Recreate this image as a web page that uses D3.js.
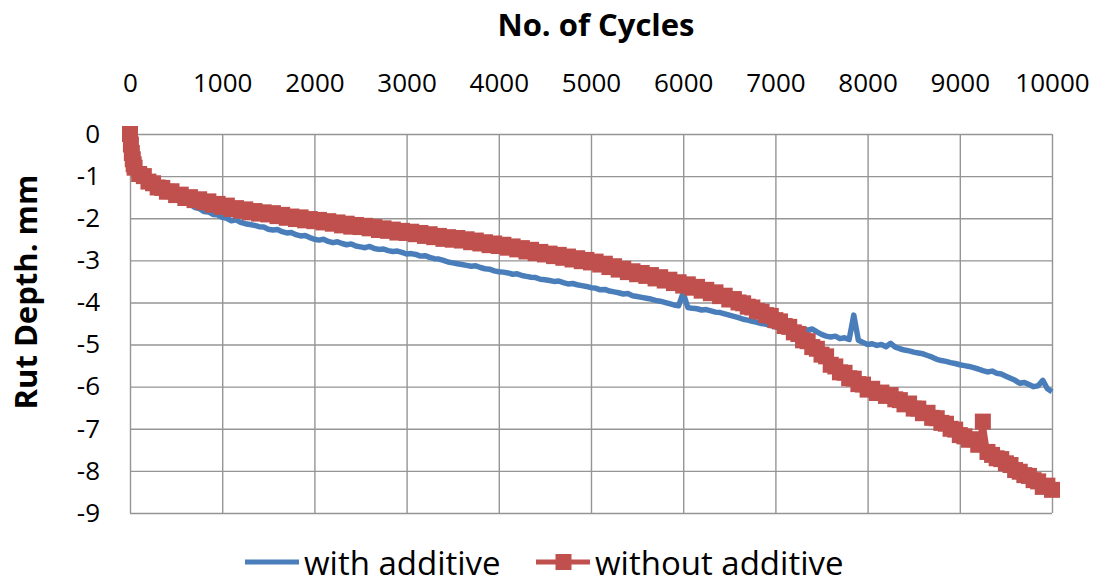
<!DOCTYPE html>
<html lang="en">
<head>
<meta charset="utf-8">
<script src="https://cdn.jsdelivr.net/npm/d3@7/dist/d3.min.js"></script>
<style>
  body { margin: 0; background: #fff; }
  text { font-family: "Open Sans", sans-serif; fill: #000; }
</style>
</head>
<body>
<script>
// cycles: a few early readings, then every 50 cycles
var cycles = [0, 10, 20, 30, 40].concat(d3.range(50, 10001, 50));

var withAdditive = [0, -0.2, -0.4, -0.55, -0.65,
  -0.72, -0.88, -0.98, -1.06, -1.14, -1.2, -1.26, -1.31, -1.37, -1.45,
  -1.52, -1.6, -1.66, -1.74, -1.77, -1.84, -1.85, -1.91, -1.92, -1.98,
  -2.0, -2.06, -2.04, -2.1, -2.13, -2.15, -2.17, -2.2, -2.21, -2.26,
  -2.28, -2.27, -2.32, -2.35, -2.34, -2.39, -2.42, -2.41, -2.46, -2.5,
  -2.52, -2.5, -2.55, -2.58, -2.56, -2.6, -2.63, -2.61, -2.66, -2.68,
  -2.7, -2.67, -2.72, -2.74, -2.73, -2.77, -2.79, -2.78, -2.81, -2.85,
  -2.84, -2.86, -2.9, -2.89, -2.93, -2.96, -2.97, -3.0, -3.04, -3.06,
  -3.08, -3.1, -3.12, -3.14, -3.13, -3.17, -3.2, -3.21, -3.25, -3.27,
  -3.28, -3.3, -3.33, -3.32, -3.36, -3.38, -3.4, -3.41, -3.45, -3.46,
  -3.48, -3.5, -3.49, -3.53, -3.56, -3.55, -3.58, -3.6, -3.62, -3.65,
  -3.66, -3.7, -3.69, -3.73, -3.75, -3.77, -3.8, -3.79, -3.84, -3.86,
  -3.88, -3.9, -3.92, -3.95, -3.97, -4.0, -4.03, -4.06, -4.08, -3.77,
  -4.12, -4.14, -4.15, -4.18, -4.17, -4.2, -4.23, -4.24, -4.27, -4.3,
  -4.33, -4.36, -4.4, -4.42, -4.45, -4.47, -4.5, -4.52, -4.55, -4.58,
  -4.6, -4.58, -4.62, -4.6, -4.64, -4.62, -4.66, -4.63, -4.7, -4.76,
  -4.8, -4.82, -4.8, -4.86, -4.84, -4.88, -4.3, -4.9, -4.95, -5.0,
  -4.98, -5.02, -5.0, -5.05, -4.97, -5.06, -5.1, -5.13, -5.15, -5.18,
  -5.2, -5.22, -5.26, -5.3, -5.35, -5.38, -5.4, -5.43, -5.45, -5.48,
  -5.5, -5.52, -5.55, -5.58, -5.62, -5.65, -5.63, -5.68, -5.7, -5.75,
  -5.8, -5.85, -5.92, -5.9, -5.95, -6.0, -5.98, -5.85, -6.05, -6.12];

var withoutAdditive = [0, -0.25, -0.45, -0.6, -0.72,
  -0.8, -0.95, -1.0, -1.13, -1.17, -1.27, -1.28, -1.37, -1.36, -1.45,
  -1.44, -1.52, -1.5, -1.57, -1.55, -1.62, -1.6, -1.68, -1.66, -1.73,
  -1.7, -1.78, -1.76, -1.82, -1.79, -1.86, -1.83, -1.89, -1.86, -1.91,
  -1.88, -1.95, -1.92, -1.99, -1.96, -2.02, -1.98, -2.05, -2.02, -2.07,
  -2.04, -2.1, -2.07, -2.13, -2.1, -2.17, -2.13, -2.2, -2.16, -2.21,
  -2.18, -2.24, -2.21, -2.28, -2.24, -2.3, -2.27, -2.34, -2.3, -2.35,
  -2.32, -2.38, -2.35, -2.42, -2.38, -2.45, -2.42, -2.49, -2.45, -2.51,
  -2.47, -2.53, -2.5, -2.57, -2.53, -2.6, -2.57, -2.64, -2.6, -2.66,
  -2.63, -2.7, -2.67, -2.74, -2.71, -2.79, -2.75, -2.83, -2.8, -2.86,
  -2.84, -2.9, -2.87, -2.94, -2.91, -2.98, -2.95, -3.02, -2.99, -3.05,
  -3.03, -3.1, -3.08, -3.16, -3.14, -3.22, -3.2, -3.28, -3.26, -3.33,
  -3.3, -3.37, -3.35, -3.43, -3.4, -3.48, -3.46, -3.54, -3.52, -3.6,
  -3.57, -3.65, -3.63, -3.72, -3.7, -3.78, -3.76, -3.85, -3.84, -3.93,
  -3.92, -4.0, -4.02, -4.1, -4.12, -4.2, -4.22, -4.3, -4.32, -4.42,
  -4.45, -4.56, -4.58, -4.71, -4.75, -4.9, -4.92, -5.06, -5.1, -5.24,
  -5.28, -5.48, -5.52, -5.66, -5.67, -5.8, -5.81, -5.94, -5.95, -6.07,
  -6.05, -6.15, -6.14, -6.22, -6.2, -6.3, -6.32, -6.42, -6.4, -6.52,
  -6.52, -6.63, -6.62, -6.74, -6.75, -6.86, -6.88, -7.0, -7.02, -7.15,
  -7.18, -7.26, -7.25, -7.38, -6.83, -7.55, -7.62, -7.7, -7.72, -7.82,
  -7.86, -7.98, -8.02, -8.1, -8.12, -8.22, -8.25, -8.38, -8.35, -8.45];

var xTicks = [0, 1000, 2000, 3000, 4000, 5000, 6000, 7000, 8000, 9000, 10000];
var yTicks = [0, -1, -2, -3, -4, -5, -6, -7, -8, -9];

var blue = "#4a7ebb";
var red = "#c0504d";

var width = 1103, height = 579;

var svg = d3.select("body").append("svg")
  .attr("width", width)
  .attr("height", height);

var x = d3.scaleLinear().domain([0, 10000]).range([130, 1052]);
var y = d3.scaleLinear().domain([0, -9]).range([134, 513]);

// gridlines
svg.append("g")
  .attr("transform", "translate(0,513)")
  .call(d3.axisBottom(x).tickValues(xTicks).tickSize(-379).tickFormat(""))
  .call(function(g) { g.select(".domain").remove(); })
  .selectAll("line").attr("stroke", "#959595").attr("stroke-width", 1.4);

svg.append("g")
  .attr("transform", "translate(130,0)")
  .call(d3.axisLeft(y).tickValues(yTicks).tickSize(-922).tickFormat(""))
  .call(function(g) { g.select(".domain").remove(); })
  .selectAll("line").attr("stroke", "#959595").attr("stroke-width", 1.4);

// tick labels
var xLab = svg.append("g")
  .attr("transform", "translate(0,92)")
  .call(d3.axisTop(x).tickValues(xTicks).tickSize(0).tickPadding(0).tickFormat(d3.format("d")));
xLab.select(".domain").remove();
xLab.selectAll("text").attr("font-size", 26).attr("font-family", "Open Sans").attr("fill", "#000");

var yLab = svg.append("g")
  .attr("transform", "translate(100,0)")
  .call(d3.axisLeft(y).tickValues(yTicks).tickSize(0).tickPadding(0).tickFormat(function(d) { return String(d); }));
yLab.select(".domain").remove();
yLab.selectAll("text").attr("font-size", 26).attr("font-family", "Open Sans").attr("fill", "#000");

// titles
svg.append("text")
  .attr("x", 596).attr("y", 36)
  .attr("text-anchor", "middle")
  .attr("font-size", 31).attr("font-weight", "bold")
  .text("No. of Cycles");

svg.append("text")
  .attr("transform", "translate(37,292) rotate(-90)")
  .attr("text-anchor", "middle")
  .attr("font-size", 31).attr("font-weight", "bold")
  .text("Rut Depth. mm");

// series
var line = d3.line()
  .x(function(d, i) { return x(cycles[i]); })
  .y(function(d) { return y(d); });

svg.append("path")
  .datum(withAdditive)
  .attr("fill", "none")
  .attr("stroke", blue)
  .attr("stroke-width", 5.5)
  .attr("stroke-linejoin", "round")
  .attr("d", line);

svg.append("path")
  .datum(withoutAdditive)
  .attr("fill", "none")
  .attr("stroke", red)
  .attr("stroke-width", 5)
  .attr("d", line);

svg.append("g").selectAll("rect")
  .data(withoutAdditive)
  .enter().append("rect")
  .attr("x", function(d, i) { return x(cycles[i]) - 8; })
  .attr("y", function(d) { return y(d) - 8; })
  .attr("width", 16)
  .attr("height", 16)
  .attr("fill", red);

// legend
var legend = svg.append("g");
legend.append("line")
  .attr("x1", 245).attr("x2", 299).attr("y1", 562).attr("y2", 562)
  .attr("stroke", blue).attr("stroke-width", 5);
legend.append("text")
  .attr("x", 304).attr("y", 575)
  .attr("font-size", 33)
  .text("with additive");

legend.append("line")
  .attr("x1", 536).attr("x2", 590).attr("y1", 562).attr("y2", 562)
  .attr("stroke", red).attr("stroke-width", 5);
legend.append("rect")
  .attr("x", 555.5).attr("y", 554).attr("width", 16).attr("height", 16)
  .attr("fill", red);
legend.append("text")
  .attr("x", 595).attr("y", 575)
  .attr("font-size", 33)
  .text("without additive");
</script>
</body>
</html>
